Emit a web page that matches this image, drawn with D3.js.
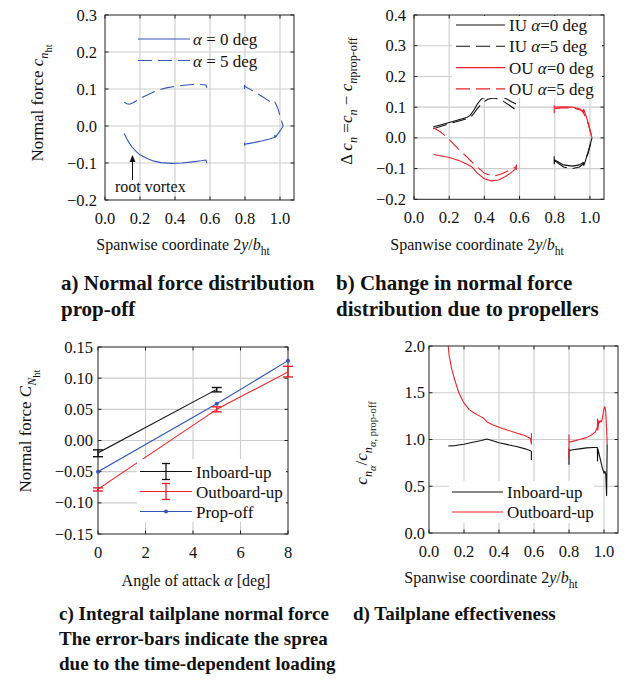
<!DOCTYPE html>
<html>
<head>
<meta charset="utf-8">
<script src="https://cdn.jsdelivr.net/npm/d3@7"></script>
<style>
  body { margin: 0; background: #fff; }
  svg { display: block; }
  text { font-family: "Liberation Serif", "Times New Roman", serif; fill: #111; }
</style>
</head>
<body>
<div id="chart"></div>
<script>
// ---- a) normal force distribution prop-off (blue)
const aIn0X = [0.11, 0.125, 0.14, 0.155, 0.18, 0.2, 0.24, 0.28, 0.32, 0.38, 0.44, 0.5, 0.55, 0.577, 0.582]
const aIn0Y = [-0.02, -0.035, -0.047, -0.057, -0.07, -0.078, -0.088, -0.095, -0.099, -0.101, -0.1, -0.097, -0.094, -0.092, -0.1]
const aIn5X = [0.11, 0.125, 0.14, 0.16, 0.19, 0.22, 0.26, 0.3, 0.35, 0.4, 0.45, 0.5, 0.55, 0.577, 0.582]
const aIn5Y = [0.064, 0.06, 0.059, 0.063, 0.071, 0.079, 0.088, 0.096, 0.103, 0.107, 0.11, 0.112, 0.112, 0.111, 0.103]
const aOut0X = [0.797, 0.797, 0.8, 0.85, 0.9, 0.94, 0.968, 0.971, 0.974, 0.99, 1.005, 1.018]
const aOut0Y = [-0.045, -0.052, -0.049, -0.045, -0.04, -0.035, -0.031, -0.025, -0.03, -0.02, -0.01, 0.0]
const aOut5X = [0.797, 0.797, 0.8, 0.83, 0.87, 0.9, 0.93, 0.955, 0.962, 0.97, 0.98, 0.99, 1.0, 1.018]
const aOut5Y = [0.1, 0.11, 0.107, 0.099, 0.088, 0.079, 0.07, 0.062, 0.066, 0.065, 0.056, 0.045, 0.027, 0.0]

// ---- b) change due to propellers
const bIU0InX = [0.11, 0.15, 0.2, 0.25, 0.3, 0.32, 0.34, 0.36, 0.38, 0.41, 0.44, 0.47, 0.5, 0.53, 0.56, 0.58]
const bIU0InY = [0.036, 0.042, 0.05, 0.058, 0.066, 0.074, 0.09, 0.11, 0.125, 0.135, 0.14, 0.139, 0.134, 0.126, 0.116, 0.11]
const bIU5InX = [0.11, 0.15, 0.2, 0.25, 0.3, 0.33, 0.36, 0.39, 0.42, 0.45, 0.48, 0.51, 0.54, 0.56, 0.58]
const bIU5InY = [0.03, 0.037, 0.046, 0.054, 0.062, 0.072, 0.095, 0.115, 0.126, 0.13, 0.127, 0.118, 0.107, 0.099, 0.09]
const bOU0InX = [0.11, 0.15, 0.2, 0.25, 0.3, 0.33, 0.36, 0.4, 0.44, 0.48, 0.52, 0.56, 0.578, 0.582, 0.582]
const bOU0InY = [-0.054, -0.058, -0.064, -0.073, -0.085, -0.095, -0.115, -0.133, -0.14, -0.137, -0.126, -0.11, -0.1, -0.088, -0.104]
const bOU5InX = [0.11, 0.15, 0.2, 0.25, 0.3, 0.35, 0.4, 0.45, 0.5, 0.55, 0.58]
const bOU5InY = [0.033, 0.02, -0.005, -0.035, -0.062, -0.09, -0.115, -0.125, -0.117, -0.103, -0.094]
const bIU0OutX = [0.797, 0.797, 0.8, 0.85, 0.9, 0.94, 0.962, 0.965, 0.97, 0.99, 1.012]
const bIU0OutY = [-0.06, -0.085, -0.072, -0.088, -0.092, -0.088, -0.08, -0.09, -0.083, -0.045, 0.0]
const bIU5OutX = [0.8, 0.85, 0.9, 0.94, 0.962, 0.99, 1.012]
const bIU5OutY = [-0.075, -0.095, -0.1, -0.095, -0.085, -0.05, 0.0]
const bOU0OutX = [0.797, 0.797, 0.8, 0.85, 0.9, 0.94, 0.96, 0.962, 0.965, 0.97, 0.99, 1.012]
const bOU0OutY = [0.08, 0.104, 0.1, 0.101, 0.1, 0.095, 0.088, 0.08, 0.093, 0.085, 0.05, 0.0]
const bOU5OutX = [0.8, 0.85, 0.9, 0.94, 0.962, 0.99, 1.012]
const bOU5OutY = [0.095, 0.098, 0.097, 0.092, 0.084, 0.045, 0.0]

// ---- c) integral normal force
const cAlphaProp = [0, 5, 8]
const cPropOff = [-0.05, 0.059, 0.128]
const cAlphaIU = [0, 5]
const cIU = [-0.02, 0.082]
const cIULo = [-0.026, 0.078]
const cIUHi = [-0.015, 0.085]
const cAlphaOU = [0, 5, 8]
const cOU = [-0.078, 0.05, 0.11]
const cOULo = [-0.081, 0.046, 0.102]
const cOUHi = [-0.076, 0.054, 0.119]

// ---- d) tailplane effectiveness
const dIUInX = [0.11, 0.15, 0.2, 0.25, 0.3, 0.33, 0.36, 0.4, 0.45, 0.5, 0.55, 0.58, 0.585, 0.585]
const dIUInY = [0.93, 0.935, 0.95, 0.97, 0.99, 1.005, 0.99, 0.965, 0.945, 0.925, 0.9, 0.88, 0.87, 0.78]
const dOUInX = [0.105, 0.115, 0.13, 0.15, 0.17, 0.2, 0.23, 0.26, 0.29, 0.31, 0.33, 0.36, 0.4, 0.45, 0.5, 0.55, 0.58, 0.585, 0.585]
const dOUInY = [2.1, 1.9, 1.75, 1.62, 1.5, 1.39, 1.32, 1.28, 1.25, 1.23, 1.19, 1.16, 1.13, 1.1, 1.07, 1.04, 1.01, 0.95, 1.07]
const dIUOutX = [0.8, 0.8, 0.8, 0.82, 0.86, 0.9, 0.94, 0.962, 0.963, 0.965, 0.97, 0.98, 0.99, 1.0, 1.005, 1.01, 1.015, 1.018]
const dIUOutY = [0.73, 0.9, 0.88, 0.89, 0.9, 0.91, 0.915, 0.915, 0.77, 0.9, 0.86, 0.78, 0.7, 0.64, 0.66, 0.63, 0.4, 0.95]
const dOUOutX = [0.8, 0.8, 0.8, 0.82, 0.86, 0.9, 0.93, 0.95, 0.962, 0.963, 0.965, 0.97, 0.975, 0.98, 0.985, 0.99, 1.0, 1.005, 1.01, 1.015, 1.018]
const dOUOutY = [0.8, 1.05, 0.97, 0.98, 1.0, 1.02, 1.05, 1.08, 1.13, 1.22, 1.1, 1.2, 1.18, 1.2, 1.19, 1.22, 1.33, 1.35, 1.3, 1.1, 0.95]

// ticks
const spanTicks = [0, 0.2, 0.4, 0.6, 0.8, 1.0]
const aYTicks = [-0.2, -0.1, 0, 0.1, 0.2, 0.3]
const bYTicks = [-0.2, -0.1, 0, 0.1, 0.2, 0.3, 0.4]
const cXTicks = [0, 2, 4, 6, 8]
const cYTicks = [-0.15, -0.1, -0.05, 0, 0.05, 0.1, 0.15]
const dYTicks = [0, 0.5, 1.0, 1.5, 2.0]

const BLUE = '#3556b8', RED = '#f0212a', BLACK = '#111'

const W = 639, H = 680
const svg = d3.select('#chart').append('svg').attr('width', W).attr('height', H)
const fmt1 = d3.format('.1f'), fmt2 = d3.format('.2f'), fmt0 = d3.format('d')

function makePanel(id, box, xDom, yDom, xTicks, yTicks, xFmt, yFmt, yGap) {
  const x = d3.scaleLinear().domain(xDom).range([box.l, box.r])
  const y = d3.scaleLinear().domain(yDom).range([box.b, box.t])
  const g = svg.append('g')

  svg.append('clipPath').attr('id', 'clip-' + id)
    .append('rect').attr('x', box.l).attr('y', box.t)
    .attr('width', box.r - box.l).attr('height', box.b - box.t)

  g.selectAll('.gx').data(xTicks.filter(d => x(d) > box.l + 1 && x(d) < box.r - 1)).enter()
    .append('line')
    .attr('x1', d => x(d)).attr('x2', d => x(d))
    .attr('y1', box.t).attr('y2', box.b)
    .attr('stroke', '#cdcdcd').attr('stroke-width', 1.1)
  g.selectAll('.gy').data(yTicks.filter(d => y(d) > box.t + 1 && y(d) < box.b - 1)).enter()
    .append('line')
    .attr('x1', box.l).attr('x2', box.r)
    .attr('y1', d => y(d)).attr('y2', d => y(d))
    .attr('stroke', '#cdcdcd').attr('stroke-width', 1.1)

  const plot = g.append('g').attr('clip-path', `url(#clip-${id})`)
  const over = svg.append('g')

  // box and inward ticks
  over.append('rect').attr('x', box.l).attr('y', box.t)
    .attr('width', box.r - box.l).attr('height', box.b - box.t)
    .attr('fill', 'none').attr('stroke', '#222').attr('stroke-width', 1)
  const tk = 3.5
  xTicks.forEach(d => {
    over.append('line').attr('x1', x(d)).attr('x2', x(d)).attr('y1', box.b).attr('y2', box.b - tk).attr('stroke', '#222')
    over.append('line').attr('x1', x(d)).attr('x2', x(d)).attr('y1', box.t).attr('y2', box.t + tk).attr('stroke', '#222')
  })
  yTicks.forEach(d => {
    over.append('line').attr('y1', y(d)).attr('y2', y(d)).attr('x1', box.l).attr('x2', box.l + tk).attr('stroke', '#222')
    over.append('line').attr('y1', y(d)).attr('y2', y(d)).attr('x1', box.r).attr('x2', box.r - tk).attr('stroke', '#222')
  })

  over.selectAll('.xl').data(xTicks).enter().append('text')
    .attr('x', d => x(d)).attr('y', box.b + 23.5)
    .attr('text-anchor', 'middle').attr('font-size', 16.5)
    .text(xFmt)
  over.selectAll('.yl').data(yTicks).enter().append('text')
    .attr('x', box.l - yGap).attr('y', d => y(d) + 5.5)
    .attr('text-anchor', 'end').attr('font-size', 16.5)
    .text(yFmt)

  return { x, y, plot, over, box }
}

function drawLine(p, xs, ys, color, dash, width) {
  const line = d3.line().x(d => p.x(d[0])).y(d => p.y(d[1]))
  p.plot.append('path')
    .attr('d', line(d3.zip(xs, ys)))
    .attr('fill', 'none').attr('stroke', color)
    .attr('stroke-width', width || 1.1)
    .attr('stroke-dasharray', dash || null)
    .attr('stroke-linejoin', 'round')
}

function richText(sel, parts, size) {
  const off = [0, 0.3, 0.55]
  const scale = [1, 0.72, 0.62]
  let level = 0
  parts.forEach(p => {
    const lv = p.s || 0
    const ts = sel.append('tspan').text(p.t)
      .attr('font-size', size * scale[lv])
      .attr('dy', (off[lv] - off[level]) * size)
    if (p.i) ts.attr('font-style', 'italic')
    level = lv
  })
  return sel
}

function yLabel(x, y, parts) {
  const t = svg.append('text').attr('text-anchor', 'middle')
    .attr('transform', `translate(${x},${y}) rotate(-90)`)
  richText(t, parts, 17)
}
function xLabel(x, y, parts) {
  const t = svg.append('text').attr('text-anchor', 'middle').attr('x', x).attr('y', y)
  richText(t, parts, 16)
}
function caption(x, y, lines, size, step) {
  lines.forEach((s, i) => {
    svg.append('text').attr('x', x).attr('y', y + i * step)
      .attr('font-size', size).attr('font-weight', 'bold').text(s)
  })
}

const DASH = '14,6'
const spanLabel = [{ t: 'Spanwise coordinate 2' }, { t: 'y', i: 1 }, { t: '/' }, { t: 'b', i: 1 }, { t: 'ht', s: 1 }]

// ===== panel a
const pa = makePanel('a', { l: 105, r: 294, t: 15, b: 200 }, [0, 1.08], [-0.2, 0.3], spanTicks, aYTicks, fmt1, fmt1, 8)
drawLine(pa, aIn0X, aIn0Y, BLUE)
drawLine(pa, aOut0X, aOut0Y, BLUE)
drawLine(pa, aIn5X, aIn5Y, BLUE, DASH)
drawLine(pa, aOut5X, aOut5Y, BLUE, DASH)

const legA = [{ label: 'α = 0 deg', dash: null }, { label: 'α = 5 deg', dash: DASH }]
legA.forEach((d, i) => {
  const yy = 39 + i * 21.5
  pa.over.append('line').attr('x1', 138).attr('x2', 190).attr('y1', yy).attr('y2', yy)
    .attr('stroke', BLUE).attr('stroke-width', 1.1).attr('stroke-dasharray', d.dash)
  const t = pa.over.append('text').attr('x', 193).attr('y', yy + 6).attr('font-size', 17)
  t.append('tspan').attr('font-style', 'italic').text(d.label.slice(0, 1))
  t.append('tspan').text(d.label.slice(1))
})

// root vortex annotation
pa.over.append('line').attr('x1', 132.5).attr('x2', 132.5).attr('y1', 180).attr('y2', 160)
  .attr('stroke', '#111').attr('stroke-width', 1)
pa.over.append('path').attr('d', 'M132.5,155 L129.5,162 L135.5,162 Z').attr('fill', '#111')
pa.over.append('text').attr('x', 115).attr('y', 192).attr('font-size', 16).text('root vortex')

yLabel(43, 103, [{ t: 'Normal force  ' }, { t: 'c', i: 1 }, { t: 'n', i: 1, s: 1 }, { t: 'ht', s: 2 }])
xLabel(183, 250, spanLabel)
caption(61, 290, ['a) Normal force distribution', 'prop-off'], 21, 26)

// ===== panel b
const pb = makePanel('b', { l: 414, r: 604, t: 15, b: 199.3 }, [0, 1.08], [-0.2, 0.4], spanTicks, bYTicks, fmt1, fmt1, 8)
pb.over.append('rect').attr('x', 452).attr('y', 16).attr('width', 150).attr('height', 82).attr('fill', '#fff')
drawLine(pb, bIU0InX, bIU0InY, BLACK)
drawLine(pb, bIU5InX, bIU5InY, BLACK, DASH)
drawLine(pb, bOU0InX, bOU0InY, RED)
drawLine(pb, bOU5InX, bOU5InY, RED, DASH)
drawLine(pb, bIU0OutX, bIU0OutY, BLACK)
drawLine(pb, bIU5OutX, bIU5OutY, BLACK, DASH)
drawLine(pb, bOU0OutX, bOU0OutY, RED)
drawLine(pb, bOU5OutX, bOU5OutY, RED, DASH)

const legB = [
  { pre: 'IU ', a: '0', color: BLACK, dash: null },
  { pre: 'IU ', a: '5', color: BLACK, dash: DASH },
  { pre: 'OU ', a: '0', color: RED, dash: null },
  { pre: 'OU ', a: '5', color: RED, dash: DASH }
]
legB.forEach((d, i) => {
  const yy = 25 + i * 21.3
  pb.over.append('line').attr('x1', 456).attr('x2', 505).attr('y1', yy).attr('y2', yy)
    .attr('stroke', d.color).attr('stroke-width', 1.1).attr('stroke-dasharray', d.dash)
  const t = pb.over.append('text').attr('x', 509).attr('y', yy + 6).attr('font-size', 17)
  t.append('tspan').text(d.pre)
  t.append('tspan').attr('font-style', 'italic').text('α')
  t.append('tspan').text('=' + d.a + ' deg')
})

yLabel(352, 101, [{ t: 'Δ ' }, { t: 'c', i: 1 }, { t: 'n', i: 1, s: 1 }, { t: ' =', s: 0 }, { t: 'c', i: 1 },
  { t: 'n', i: 1, s: 1 }, { t: ' − ' }, { t: 'c', i: 1 }, { t: 'n', i: 1, s: 1 }, { t: 'prop-off', s: 1 }])
xLabel(477, 250, spanLabel)
caption(336, 290, ['b) Change in normal force', 'distribution due to propellers'], 21, 26)

// ===== panel c
const pc = makePanel('c', { l: 98, r: 288, t: 347, b: 534 }, [0, 8], [-0.15, 0.15], cXTicks, cYTicks, fmt0, fmt2, 5)
pc.over.append('rect').attr('x', 137).attr('y', 459).attr('width', 149).attr('height', 63).attr('fill', '#fff')

function errorSeries(p, xs, ys, lo, hi, color) {
  drawLine(p, xs, ys, color)
  const cap = 5
  xs.forEach((a, i) => {
    const px = p.x(a)
    p.over.append('line').attr('x1', px).attr('x2', px).attr('y1', p.y(lo[i])).attr('y2', p.y(hi[i]))
      .attr('stroke', color).attr('stroke-width', 1.4)
    ;[lo[i], hi[i]].forEach(v => {
      p.over.append('line').attr('x1', px - cap).attr('x2', px + cap).attr('y1', p.y(v)).attr('y2', p.y(v))
        .attr('stroke', color).attr('stroke-width', 1.4)
    })
  })
}
errorSeries(pc, cAlphaIU, cIU, cIULo, cIUHi, BLACK)
errorSeries(pc, cAlphaOU, cOU, cOULo, cOUHi, RED)
drawLine(pc, cAlphaProp, cPropOff, BLUE)
pc.over.selectAll('.dot').data(d3.zip(cAlphaProp, cPropOff)).enter().append('circle')
  .attr('cx', d => pc.x(d[0])).attr('cy', d => pc.y(d[1])).attr('r', 2).attr('fill', BLUE)

const legC = [
  { label: 'Inboard-up', color: BLACK, kind: 'err' },
  { label: 'Outboard-up', color: RED, kind: 'err' },
  { label: 'Prop-off', color: BLUE, kind: 'dot' }
]
legC.forEach((d, i) => {
  const yy = 471.5 + i * 20
  pc.over.append('line').attr('x1', 140).attr('x2', 192).attr('y1', yy).attr('y2', yy)
    .attr('stroke', d.color).attr('stroke-width', 1.1)
  if (d.kind === 'err') {
    pc.over.append('line').attr('x1', 166).attr('x2', 166).attr('y1', yy - 8).attr('y2', yy + 8)
      .attr('stroke', d.color).attr('stroke-width', 1.3)
    ;[yy - 8, yy + 8].forEach(v => pc.over.append('line').attr('x1', 162).attr('x2', 170)
      .attr('y1', v).attr('y2', v).attr('stroke', d.color).attr('stroke-width', 1.3))
  } else {
    pc.over.append('circle').attr('cx', 166).attr('cy', yy).attr('r', 2).attr('fill', d.color)
  }
  pc.over.append('text').attr('x', 196).attr('y', yy + 6).attr('font-size', 17).text(d.label)
})

yLabel(31, 431, [{ t: 'Normal force  ' }, { t: 'C', i: 1 }, { t: 'N', i: 1, s: 1 }, { t: 'ht', s: 2 }])
const cx = svg.append('text').attr('text-anchor', 'middle').attr('x', 196).attr('y', 586).attr('font-size', 16)
cx.append('tspan').text('Angle of attack ')
cx.append('tspan').attr('font-style', 'italic').text('α')
cx.append('tspan').text(' [deg]')
caption(59, 619.5, ['c) Integral tailplane normal force', 'The error-bars indicate the sprea', 'due to the time-dependent loading'], 19, 25)

// ===== panel d
const pd = makePanel('d', { l: 429, r: 618, t: 346, b: 533 }, [0, 1.08], [0, 2], spanTicks, dYTicks, fmt1, fmt1, 4)
pd.over.append('rect').attr('x', 449).attr('y', 481).attr('width', 145).attr('height', 42).attr('fill', '#fff')
drawLine(pd, dIUInX, dIUInY, BLACK)
drawLine(pd, dOUInX, dOUInY, RED)
drawLine(pd, dIUOutX, dIUOutY, BLACK)
drawLine(pd, dOUOutX, dOUOutY, RED)

const legD = [{ label: 'Inboard-up', color: BLACK }, { label: 'Outboard-up', color: RED }]
legD.forEach((d, i) => {
  const yy = 492 + i * 20
  pd.over.append('line').attr('x1', 452).attr('x2', 503).attr('y1', yy).attr('y2', yy)
    .attr('stroke', d.color).attr('stroke-width', 1.1)
  pd.over.append('text').attr('x', 507).attr('y', yy + 6).attr('font-size', 17).text(d.label)
})

yLabel(367, 443, [{ t: 'c', i: 1 }, { t: 'n', i: 1, s: 1 }, { t: 'α', i: 1, s: 2 }, { t: '/', s: 0 }, { t: 'c', i: 1 },
  { t: 'n', i: 1, s: 1 }, { t: 'α', i: 1, s: 2 }, { t: ', prop-off', s: 2 }])
xLabel(491, 583, spanLabel)
caption(353, 619.5, ['d) Tailplane effectiveness'], 19, 25)
</script>
</body>
</html>
